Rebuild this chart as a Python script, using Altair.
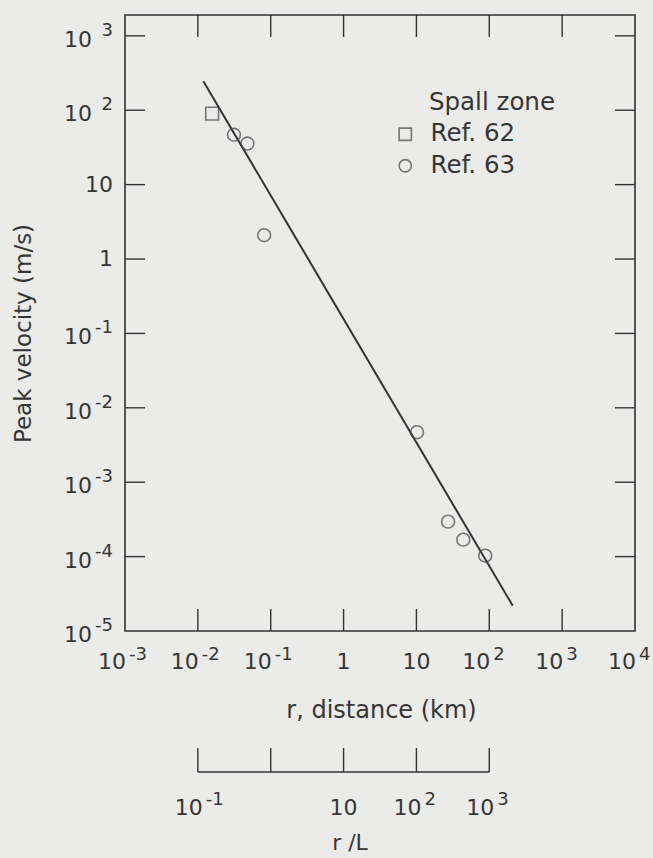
import altair as alt
import pandas as pd

# ---------------- data ----------------
sources = ["Ref. 62", "Ref. 63"]
ref62_r = [0.0157]
ref62_v = [90.0]
ref63_r = [0.0313, 0.0479, 0.0813, 10.2, 27.2, 44.0, 88.0]
ref63_v = [46.8, 35.6, 2.09, 4.7e-3, 2.95e-4, 1.69e-4, 1.03e-4]
fit_r = [0.0119, 210.0]
fit_v = [245.0, 2.18e-5]

x_ticks = [1e-3, 1e-2, 1e-1, 1.0, 10.0, 1e2, 1e3, 1e4]
x_base = ["10", "10", "10", "1", "10", "10", "10", "10"]
x_exp = ["-3", "-2", "-1", "", "", "2", "3", "4"]

y_ticks = [1e-5, 1e-4, 1e-3, 1e-2, 1e-1, 1.0, 10.0, 1e2, 1e3]
y_base = ["10", "10", "10", "10", "10", "1", "10", "10", "10"]
y_exp = ["-5", "-4", "-3", "-2", "-1", "", "", "2", "3"]

rl_ticks = [0.1, 1.0, 10.0, 100.0, 1000.0]
rl_base = ["10", "", "10", "10", "10"]
rl_exp = ["-1", "", "", "2", "3"]
L_km = 0.1  # r/L = 1 at r = 0.1 km

# ---------------- tables ----------------
pts = pd.DataFrame({
    "r": ref62_r + ref63_r,
    "v": ref62_v + ref63_v,
    "source": [sources[0]] * len(ref62_r) + [sources[1]] * len(ref63_r),
})
fit = pd.DataFrame({"r": fit_r, "v": fit_v})
xt = pd.DataFrame({"r": x_ticks, "base": x_base, "exp": x_exp})
yt = pd.DataFrame({"v": y_ticks, "base": y_base, "exp": y_exp})
rl = pd.DataFrame({"r": [t * L_km for t in rl_ticks], "base": rl_base, "exp": rl_exp})
rl_line = pd.DataFrame({"r": [min(rl["r"])], "r2": [max(rl["r"])]})

# ---------------- style ----------------
W, H = 510, 616
FONT = "DejaVu Sans"
INK = "#333333"
GREY = "#444444"
TXT = "#363636"
BG = "#ebebea"
LAB = 22
EXP = 18

XS = alt.Scale(type="log", domain=[1e-3, 1e4], nice=False)
YS = alt.Scale(type="log", domain=[1e-5, 10 ** 3.28], nice=False)
XA = alt.Axis(labels=False, ticks=False, domain=False, grid=False,
              titleFont=FONT, titleFontSize=24, titleFontWeight="normal",
              titleColor=TXT, titleX=256, titleY=86, titleAlign="center",
              titleBaseline="alphabetic")
YA = alt.Axis(labels=False, ticks=False, domain=False, grid=False,
              titleFont=FONT, titleFontSize=23, titleFontWeight="normal",
              titleColor=TXT, titleX=-102, titleY=318, titleAlign="center",
              titleBaseline="middle", titleAngle=270)


def X(field="r"):
    return alt.X(f"{field}:Q", scale=XS, axis=XA, title="r, distance (km)")


def Y(field="v"):
    return alt.Y(f"{field}:Q", scale=YS, axis=YA, title="Peak velocity (m/s)")


def txt(**kw):
    base = dict(font=FONT, color=TXT)
    base.update(kw)
    return base


# ---------------- layers ----------------
line = alt.Chart(fit).mark_line(color=INK, strokeWidth=2).encode(x=X(), y=Y())

points = alt.Chart(pts).mark_point(filled=False, size=165, strokeWidth=1.6, color=GREY).encode(
    x=X(), y=Y(),
    shape=alt.Shape("source:N", scale=alt.Scale(domain=sources, range=["square", "circle"]),
                    legend=alt.Legend(title=None, orient="none", legendX=268, legendY=107,
                                      padding=0, labelFont=FONT, labelFontSize=24.5,
                                      labelColor=TXT, labelOffset=13, rowPadding=6.5,
                                      symbolSize=150, symbolStrokeWidth=1.6,
                                      symbolStrokeColor=GREY, symbolFillColor="transparent")),
)

inner_x = "datum.r > 0.002 && datum.r < 5000"
inner_y = "datum.v > 0.00002 && datum.v < 5000"
tick_style = dict(color=INK, strokeWidth=1.4)

xt_bottom = alt.Chart(xt).transform_filter(inner_x).mark_rule(**tick_style).encode(
    x=X(), y=alt.value(H), y2=alt.value(H - 22))
xt_top = alt.Chart(xt).transform_filter(inner_x).mark_rule(**tick_style).encode(
    x=X(), y=alt.value(0), y2=alt.value(22))
yt_left = alt.Chart(yt).transform_filter(inner_y).mark_rule(**tick_style).encode(
    y=Y(), x=alt.value(0), x2=alt.value(20))
yt_right = alt.Chart(yt).transform_filter(inner_y).mark_rule(**tick_style).encode(
    y=Y(), x=alt.value(W), x2=alt.value(W - 20))

# x tick labels
xl_base = alt.Chart(xt).transform_filter("datum.exp != ''").mark_text(
    **txt(fontSize=LAB, align="right", baseline="alphabetic", dx=1)).encode(
    x=X(), y=alt.value(654), text="base:N")
xl_exp = alt.Chart(xt).transform_filter("datum.exp != ''").mark_text(
    **txt(fontSize=EXP, align="left", baseline="alphabetic", dx=4)).encode(
    x=X(), y=alt.value(645), text="exp:N")
xl_plain = alt.Chart(xt).transform_filter("datum.exp == ''").mark_text(
    **txt(fontSize=LAB, align="center", baseline="alphabetic")).encode(
    x=X(), y=alt.value(654), text="base:N")

# y tick labels
yl_base = alt.Chart(yt).transform_filter("datum.exp != ''").mark_text(
    **txt(fontSize=LAB, align="right", baseline="middle", dy=4)).encode(
    y=Y(), x=alt.value(-33), text="base:N")
yl_exp = alt.Chart(yt).transform_filter("datum.exp != ''").mark_text(
    **txt(fontSize=EXP, align="right", baseline="middle", dy=-5)).encode(
    y=Y(), x=alt.value(-12), text="exp:N")
yl_plain = alt.Chart(yt).transform_filter("datum.exp == ''").mark_text(
    **txt(fontSize=LAB, align="right", baseline="middle")).encode(
    y=Y(), x=alt.value(-12), text="base:N")

# secondary r/L scale
rl_bar = alt.Chart(rl_line).mark_rule(**tick_style).encode(
    x=X(), x2="r2:Q", y=alt.value(757))
rl_tk = alt.Chart(rl).mark_rule(**tick_style).encode(
    x=X(), y=alt.value(757), y2=alt.value(733))
rl_lb = alt.Chart(rl).transform_filter("datum.base != '' && datum.exp != ''").mark_text(
    **txt(fontSize=LAB, align="right", baseline="alphabetic", dx=5)).encode(
    x=X(), y=alt.value(800), text="base:N")
rl_ex = alt.Chart(rl).transform_filter("datum.exp != ''").mark_text(
    **txt(fontSize=EXP, align="left", baseline="alphabetic", dx=8)).encode(
    x=X(), y=alt.value(790), text="exp:N")
rl_pl = alt.Chart(rl).transform_filter("datum.base != '' && datum.exp == ''").mark_text(
    **txt(fontSize=LAB, align="center", baseline="alphabetic")).encode(
    x=X(), y=alt.value(800), text="base:N")
rl_title = alt.Chart(pd.DataFrame({"t": ["r /L"]})).mark_text(
    **txt(fontSize=22, align="center", baseline="alphabetic")).encode(
    x=alt.value(225), y=alt.value(835), text="t:N")

legend_title = alt.Chart(pd.DataFrame({"t": ["Spall zone"]})).mark_text(
    **txt(fontSize=24.5, align="left", baseline="alphabetic")).encode(
    x=alt.value(304), y=alt.value(95), text="t:N")

chart = alt.layer(
    line, points, xt_bottom, xt_top, yt_left, yt_right,
    xl_base, xl_exp, xl_plain, yl_base, yl_exp, yl_plain,
    rl_bar, rl_tk, rl_lb, rl_ex, rl_pl, rl_title, legend_title,
).properties(
    width=W, height=H,
    padding={"left": 125, "top": 15, "right": 18, "bottom": 227},
    autosize=alt.AutoSizeParams(type="none"),
).configure(background=BG, font=FONT).configure_view(stroke=INK, strokeWidth=1.6)

chart.save("out.html", embed_options={"renderer": "svg", "actions": False})
